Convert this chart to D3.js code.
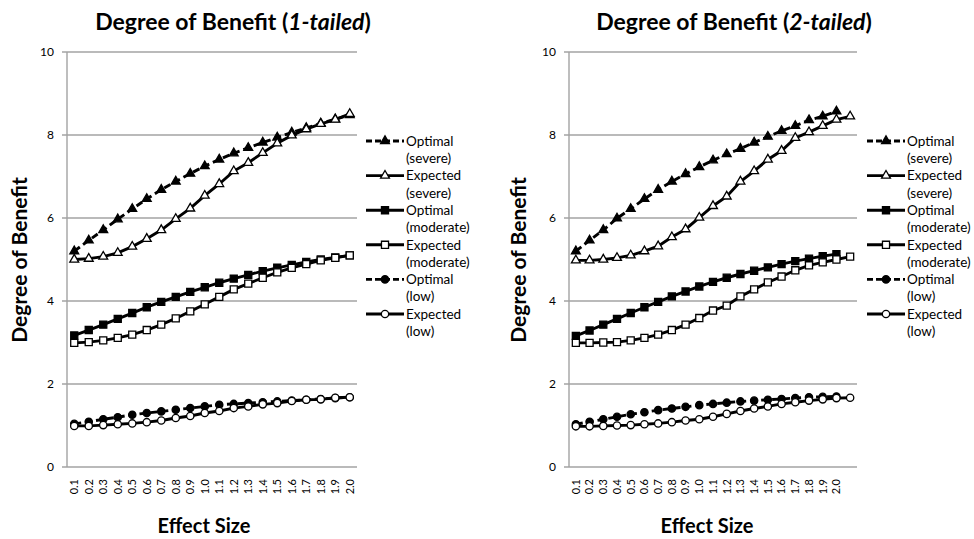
<!DOCTYPE html>
<html>
<head>
<meta charset="utf-8">
<script src="https://cdn.jsdelivr.net/npm/d3@7"></script>
<style>
  body { margin: 0; background: #fff; }
  svg { display: block; font-family: Lato, "Open Sans", sans-serif; }
</style>
</head>
<body>
<svg id="chart" width="974" height="539"></svg>
<script>
// effect size categories (x axis)
var effectSizes = ["0.1", "0.2", "0.3", "0.4", "0.5", "0.6", "0.7", "0.8", "0.9", "1.0",
                   "1.1", "1.2", "1.3", "1.4", "1.5", "1.6", "1.7", "1.8", "1.9", "2.0"];
// the 2-tailed panel has one extra, unlabelled slot at the right
var effectSizes2 = effectSizes.concat([""]);
var yTicks = [0, 2, 4, 6, 8, 10];

var seriesNames = ["Optimal (severe)", "Expected (severe)", "Optimal (moderate)",
                   "Expected (moderate)", "Optimal (low)", "Expected (low)"];

// 1-tailed
var optSevere1 = [5.20, 5.46, 5.71, 5.97, 6.22, 6.46, 6.68, 6.88, 7.07, 7.25, 7.41, 7.56, 7.69, 7.82, 7.94, 8.06, 8.17, 8.28, 8.38, 8.48];
var expSevere1 = [5.00, 5.02, 5.07, 5.16, 5.31, 5.50, 5.71, 5.98, 6.23, 6.54, 6.82, 7.13, 7.33, 7.57, 7.80, 7.99, 8.14, 8.27, 8.37, 8.51];
var optModerate1 = [3.17, 3.30, 3.43, 3.57, 3.71, 3.85, 3.98, 4.10, 4.22, 4.33, 4.44, 4.54, 4.63, 4.72, 4.80, 4.87, 4.94, 5.00, 5.05, 5.10];
var expModerate1 = [2.99, 3.01, 3.05, 3.11, 3.19, 3.30, 3.43, 3.58, 3.75, 3.92, 4.10, 4.28, 4.42, 4.56, 4.69, 4.80, 4.89, 4.98, 5.04, 5.10];
var optLow1 = [1.04, 1.09, 1.15, 1.20, 1.26, 1.30, 1.34, 1.38, 1.42, 1.46, 1.50, 1.52, 1.54, 1.56, 1.58, 1.60, 1.62, 1.64, 1.66, 1.68];
var expLow1 = [0.99, 0.99, 1.01, 1.03, 1.05, 1.08, 1.12, 1.18, 1.23, 1.30, 1.35, 1.42, 1.46, 1.51, 1.54, 1.59, 1.62, 1.63, 1.67, 1.68];

// 2-tailed
var optSevere2 = [5.20, 5.46, 5.71, 5.99, 6.22, 6.46, 6.68, 6.88, 7.06, 7.23, 7.39, 7.54, 7.67, 7.82, 7.96, 8.10, 8.22, 8.36, 8.45, 8.57];
var expSevere2 = [4.98, 4.98, 5.00, 5.04, 5.10, 5.20, 5.32, 5.54, 5.73, 6.01, 6.29, 6.52, 6.88, 7.13, 7.41, 7.62, 7.93, 8.07, 8.22, 8.37, 8.45];
var optModerate2 = [3.16, 3.29, 3.43, 3.57, 3.71, 3.85, 3.98, 4.11, 4.23, 4.35, 4.46, 4.56, 4.65, 4.73, 4.81, 4.89, 4.96, 5.02, 5.08, 5.13];
var expModerate2 = [2.99, 2.99, 3.00, 3.01, 3.05, 3.11, 3.19, 3.30, 3.43, 3.59, 3.77, 3.89, 4.11, 4.28, 4.45, 4.59, 4.74, 4.86, 4.93, 5.00, 5.07];
var optLow2 = [1.03, 1.09, 1.15, 1.21, 1.27, 1.32, 1.37, 1.41, 1.45, 1.49, 1.52, 1.55, 1.58, 1.60, 1.62, 1.64, 1.66, 1.68, 1.69, 1.70];
var expLow2 = [0.98, 0.98, 0.99, 1.00, 1.01, 1.03, 1.05, 1.08, 1.12, 1.15, 1.21, 1.28, 1.35, 1.41, 1.46, 1.52, 1.56, 1.60, 1.63, 1.66, 1.67];

// marker / line style per series (same order as seriesNames)
var styles = [
  { shape: "triangle", fill: "#000", dash: "7,4" },
  { shape: "triangle", fill: "#fff", dash: null },
  { shape: "square", fill: "#000", dash: null },
  { shape: "square", fill: "#fff", dash: null },
  { shape: "circle", fill: "#000", dash: "7,4" },
  { shape: "circle", fill: "#fff", dash: null }
];

var svg = d3.select("#chart");

function markerPath(shape) {
  if (shape === "triangle") return d3.symbol().type(d3.symbolTriangle).size(34)();
  if (shape === "square") return d3.symbol().type(d3.symbolSquare).size(50)();
  return d3.symbol().type(d3.symbolCircle).size(42)();
}

function drawPanel(p) {
  var g = svg.append("g");

  var x = d3.scaleBand()
    .domain(d3.range(p.ticks.length))
    .range([p.left, p.right]);
  var y = d3.scaleLinear().domain([0, 10]).range([467, 52]);
  var cx = function (i) { return x(i) + x.bandwidth() / 2; };

  // gridlines
  g.selectAll(".grid")
    .data(yTicks)
    .enter()
    .append("line")
    .attr("x1", p.left - 5)
    .attr("x2", p.right)
    .attr("y1", function (d) { return y(d); })
    .attr("y2", function (d) { return y(d); })
    .style("stroke", "#a3a3a3")
    .style("stroke-width", 1.4);

  // y axis line
  g.append("line")
    .attr("x1", p.left).attr("x2", p.left)
    .attr("y1", y(10)).attr("y2", y(0))
    .style("stroke", "#a3a3a3")
    .style("stroke-width", 1.4);

  g.selectAll(".ylab")
    .data(yTicks)
    .enter()
    .append("text")
    .attr("x", p.left - 13)
    .attr("y", function (d) { return y(d); })
    .attr("dy", "0.35em")
    .attr("text-anchor", "end")
    .style("font-size", "12px")
    .text(function (d) { return d; });

  // x tick labels, rotated
  g.selectAll(".xlab")
    .data(p.ticks)
    .enter()
    .append("text")
    .attr("transform", function (d, i) {
      return "translate(" + cx(i) + ",479) rotate(-90)";
    })
    .attr("dy", "0.35em")
    .attr("text-anchor", "end")
    .style("font-size", "11px")
    .text(function (d) { return d; });

  // series
  p.series.forEach(function (vals, s) {
    var st = styles[s];
    var line = d3.line()
      .x(function (d, i) { return cx(i); })
      .y(function (d) { return y(d); });
    g.append("path")
      .datum(vals)
      .attr("d", line)
      .style("fill", "none")
      .style("stroke", "#000")
      .style("stroke-width", 2.9)
      .style("stroke-dasharray", st.dash);
    g.selectAll(null)
      .data(vals)
      .enter()
      .append("path")
      .attr("d", markerPath(st.shape))
      .attr("transform", function (d, i) {
        return "translate(" + cx(i) + "," + y(d) + ")";
      })
      .style("fill", st.fill)
      .style("stroke", "#000")
      .style("stroke-width", 1.3);
  });

  // legend
  var lg = g.append("g");
  seriesNames.forEach(function (name, s) {
    var st = styles[s];
    var ly = 141 + s * 34.6;
    var parts = name.split(" ");
    lg.append("line")
      .attr("x1", p.legendX).attr("x2", p.legendX + 38)
      .attr("y1", ly).attr("y2", ly)
      .style("stroke", "#000")
      .style("stroke-width", 2.9)
      .style("stroke-dasharray", st.dash ? "6,3" : null);
    lg.append("path")
      .attr("d", markerPath(st.shape))
      .attr("transform", "translate(" + (p.legendX + 19) + "," + ly + ")")
      .style("fill", st.fill)
      .style("stroke", "#000")
      .style("stroke-width", 1.3);
    var t = lg.append("text")
      .attr("x", p.legendX + 40)
      .attr("y", ly)
      .style("font-size", "13.5px");
    t.append("tspan").attr("x", p.legendX + 40).attr("dy", "0.35em").text(parts[0]);
    t.append("tspan").attr("x", p.legendX + 40).attr("dy", 17.3).text(parts[1]);
  });

  // title
  var title = g.append("text")
    .attr("x", p.titleX)
    .attr("y", 30)
    .attr("text-anchor", "middle")
    .style("font-size", "23px")
    .style("font-weight", "bold");
  title.append("tspan").text("Degree of Benefit (");
  title.append("tspan").style("font-style", "italic").text(p.tail);
  title.append("tspan").text(")");

  // axis titles
  g.append("text")
    .attr("transform", "translate(" + p.yTitleX + ",260) rotate(-90)")
    .attr("text-anchor", "middle")
    .style("font-size", "21px")
    .style("font-weight", "bold")
    .text("Degree of Benefit");

  g.append("text")
    .attr("x", p.xTitleX)
    .attr("y", 533)
    .attr("text-anchor", "middle")
    .style("font-size", "20px")
    .style("font-weight", "bold")
    .text("Effect Size");
}

drawPanel({
  left: 67, right: 357, ticks: effectSizes, tail: "1-tailed",
  titleX: 233, yTitleX: 27, xTitleX: 204, legendX: 366,
  series: [optSevere1, expSevere1, optModerate1, expModerate1, optLow1, expLow1]
});

drawPanel({
  left: 569, right: 857, ticks: effectSizes2, tail: "2-tailed",
  titleX: 734, yTitleX: 526, xTitleX: 707, legendX: 867,
  series: [optSevere2, expSevere2, optModerate2, expModerate2, optLow2, expLow2]
});
</script>
</body>
</html>
